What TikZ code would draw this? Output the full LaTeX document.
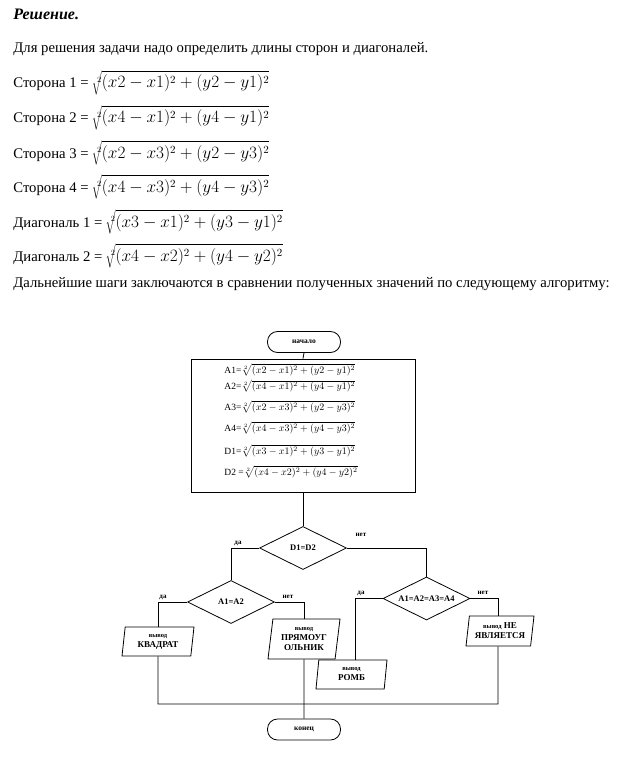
\documentclass[tikz,border=0pt]{standalone}
\usepackage{fontspec}
\setmainfont{Liberation Serif}
\usetikzlibrary{shapes.geometric,calc}
\newcommand{\bigf}{\fontsize{15.9}{18}\selectfont}
\newcommand{\boxm}{\fontsize{10.2}{11}\selectfont}
\begin{document}
\begin{tikzpicture}[x=1pt,y=-1pt,
  txt/.style={anchor=base west, inner sep=0pt, font=\fontsize{14.7}{17}\selectfont},
  boxf/.style={anchor=base west, inner sep=0pt, font=\fontsize{9.5}{11}\selectfont},
  term/.style={draw, rounded corners=10pt, minimum width=73pt, minimum height=21pt, inner sep=0pt, font=\bfseries\fontsize{7.5}{8.5}\selectfont},
  dec/.style={draw, diamond, aspect=2, minimum width=87pt, minimum height=43pt, inner sep=0pt, font=\bfseries\fontsize{8.5}{10}\selectfont},
  io/.style={draw, trapezium, trapezium left angle=78, trapezium right angle=102, trapezium stretches body, inner sep=0pt, align=center, font=\bfseries\fontsize{9}{10}\selectfont},
  lbl/.style={inner sep=0pt, font=\bfseries\fontsize{7}{8}\selectfont},
  line width=0.8pt]
\useasboundingbox (0,0) rectangle (626,757);

% text part
\node[txt, font=\bfseries\itshape\fontsize{16}{18}\selectfont] (t0) at (13,20) {Решение.};
\node[txt] (t1) at (13,53) {Для решения задачи надо определить длины сторон и диагоналей.};
\node[txt] (s1) at (13,88) {Сторона 1 = {\bigf$\sqrt[2]{(x2-x1)^2+(y2-y1)^2}$}};
\node[txt] (s2) at (13,123) {Сторона 2 = {\bigf$\sqrt[2]{(x4-x1)^2+(y4-y1)^2}$}};
\node[txt] (s3) at (13,158) {Сторона 3 = {\bigf$\sqrt[2]{(x2-x3)^2+(y2-y3)^2}$}};
\node[txt] (s4) at (13,192) {Сторона 4 = {\bigf$\sqrt[2]{(x4-x3)^2+(y4-y3)^2}$}};
\node[txt] (g1) at (13,227) {Диагональ 1 = {\bigf$\sqrt[2]{(x3-x1)^2+(y3-y1)^2}$}};
\node[txt] (g2) at (13,261) {Диагональ 2 = {\bigf$\sqrt[2]{(x4-x2)^2+(y4-y2)^2}$}};
\node[txt] (t2) at (13,287) {Дальнейшие шаги заключаются в сравнении полученных значений по следующему алгоритму:};

% flowchart
\node[term] (start) at (304,342) {начало};
\node[draw, minimum width=224pt, minimum height=133pt, inner sep=0pt] (box) at (303,425.5) {};
\node[boxf] (a1) at (224,373) {A1={\boxm$\sqrt[2]{(x2-x1)^2+(y2-y1)^2}$}};
\node[boxf] (a2) at (224,389.5) {A2={\boxm$\sqrt[2]{(x4-x1)^2+(y4-y1)^2}$}};
\node[boxf] (a3) at (224,410) {A3={\boxm$\sqrt[2]{(x2-x3)^2+(y2-y3)^2}$}};
\node[boxf] (a4) at (224,431) {A4={\boxm$\sqrt[2]{(x4-x3)^2+(y4-y3)^2}$}};
\node[boxf] (d1f) at (224,454) {D1={\boxm$\sqrt[2]{(x3-x1)^2+(y3-y1)^2}$}};
\node[boxf] (d2f) at (224,475) {D2 ={\boxm$\sqrt[2]{(x4-x2)^2+(y4-y2)^2}$}};

\node[dec] (d1) at (303,548) {D1=D2};
\node[dec] (d2) at (231,602) {A1=A2};
\node[dec] (d3) at (426.5,598.5) {A1=A2=A3=A4};

\node[io, minimum width=72pt, minimum height=29pt] (kv) at (158,641.5) {{\fontsize{6.5}{7.5}\selectfont вывод}\\КВАДРАТ};
\node[io, minimum width=72pt, minimum height=40pt] (pr) at (304,639) {{\fontsize{6.5}{7.5}\selectfont вывод}\\ПРЯМОУГ\\ОЛЬНИК};
\node[io, minimum width=71pt, minimum height=29pt] (rb) at (351.5,674.5) {{\fontsize{6.5}{7.5}\selectfont вывод}\\РОМБ};
\node[io, minimum width=68pt, minimum height=30pt] (ne) at (500,631) {{\fontsize{6.5}{7.5}\selectfont вывод} НЕ\\ЯВЛЯЕТСЯ};
\node[term] (end) at (304,729.5) {конец};

\coordinate (m1) at (158,704);
\coordinate (m2) at (498,704);

\draw (start.south) -- (box.north);
\draw (box.south) -- (d1.north);
\draw (d1.west) -| (d2.north);
\draw (d1.east) -| (d3.north);
\draw (d2.west) -| (kv.north);
\draw (d2.east) -| (pr.north);
\draw (d3.west) -| ($(rb.north)+(3.5,0)$);
\draw ($(rb.south)+(3.5,0)$) -- ($(rb.south)+(3.5,0)$ |- m1);
\draw (d3.east) -| ($(ne.north)+(-2,0)$);
\draw (kv.south) -- (m1) -- (m2) -- ($(ne.south)+(-2,0)$);
\draw (pr.south) -- (end.north);

\node[lbl] (l1) at (238,543) {да};
\node[lbl] (l2) at (361,535) {нет};
\node[lbl] (l3) at (163,597) {да};
\node[lbl] (l4) at (288,597) {нет};
\node[lbl] (l5) at (361,593) {да};
\node[lbl] (l6) at (483,593) {нет};
\end{tikzpicture}
\end{document}
